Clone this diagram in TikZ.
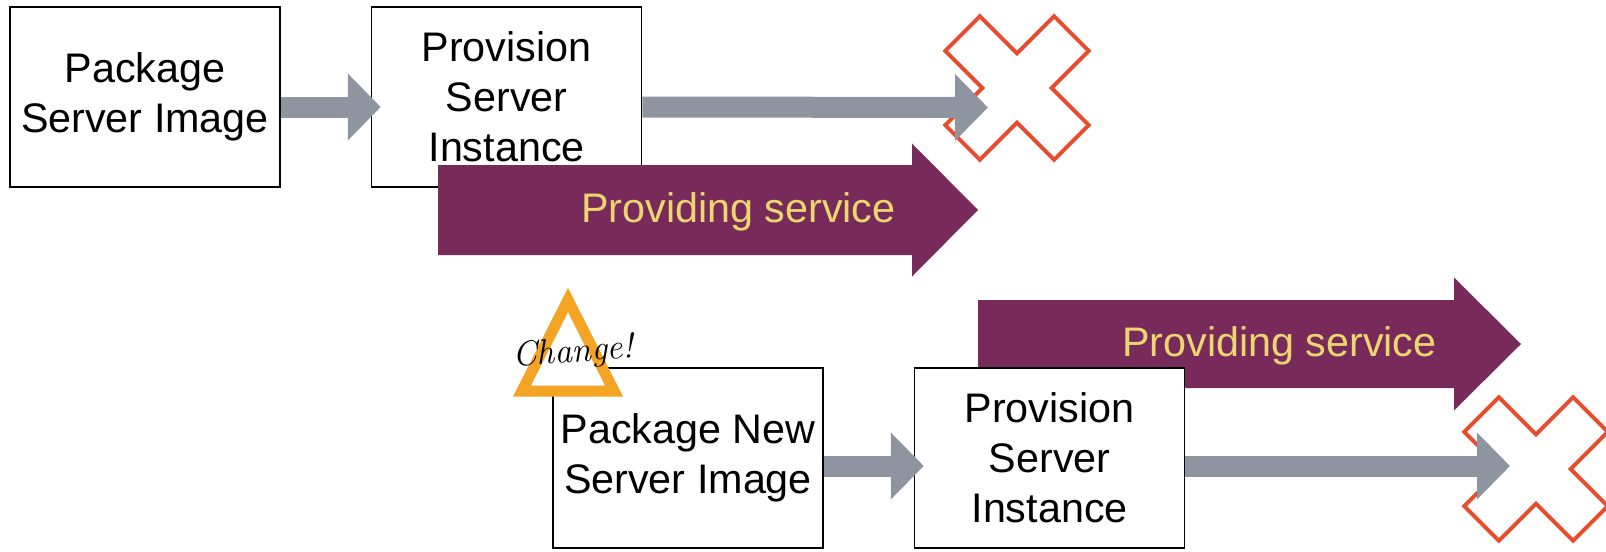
\documentclass[tikz,border=0pt]{standalone}
\usepackage{fontspec}
\setsansfont{Liberation Sans}
\usepackage{xcolor}
\usepackage{tikz}
\usetikzlibrary{arrows.meta,positioning}
\definecolor{slate}{RGB}{142,148,160}
\definecolor{plum}{RGB}{120,42,90}
\definecolor{straw}{RGB}{236,214,112}
\definecolor{alert}{RGB}{232,76,44}
\definecolor{amber}{RGB}{244,164,36}

\begin{document}
\begin{tikzpicture}[
    node distance=1.8cm,
    box/.style={draw=black, fill=white, minimum width=5.4cm, minimum height=3.6cm, align=center,
                inner sep=0pt, font=\sffamily\fontsize{23.5}{28.5}\selectfont, line width=0.9pt},
    flow/.style={-{Triangle[length=0.66cm, width=1.3cm]}, color=slate, line width=0.42cm},
    svc/.style={fill=plum},
    svctext/.style={anchor=east, inner sep=0pt, text=straw, font=\sffamily\fontsize{23.5}{28.5}\selectfont},
    cross/.style={draw=alert, line width=2.2pt, line join=miter},
    warn/.style={draw=amber, fill=white, line width=0.22cm, line join=miter}
]
\useasboundingbox (0,0) rectangle (32.12,-11.02);

\coordinate (x1) at (20.34,-1.76);
\coordinate (x2) at (30.72,-9.38);
\coordinate (stop1) at (19.76,-2.15);
\coordinate (stop2) at (30.20,-9.32);

\draw[cross, shift={(x1)}, rotate=45] (0.49,0.49) -- (1.54,0.49) -- (1.54,-0.49) -- (0.49,-0.49) -- (0.49,-1.54)
    -- (-0.49,-1.54) -- (-0.49,-0.49) -- (-1.54,-0.49) -- (-1.54,0.49) -- (-0.49,0.49) -- (-0.49,1.54) -- (0.49,1.54) -- cycle;
\draw[cross, shift={(x2)}, rotate=45] (0.49,0.49) -- (1.54,0.49) -- (1.54,-0.49) -- (0.49,-0.49) -- (0.49,-1.54)
    -- (-0.49,-1.54) -- (-0.49,-0.49) -- (-1.54,-0.49) -- (-1.54,0.49) -- (-0.49,0.49) -- (-0.49,1.54) -- (0.49,1.54) -- cycle;

\node[box] (pkg) at (2.9,-1.94) {Package\\Server Image};
\node[box, right=of pkg] (prov) {Provision\\Server\\Instance};
\draw[flow] ([yshift=-0.2cm]pkg.east) -- ([xshift=0.2cm, yshift=-0.2cm]prov.west);
\draw[flow] ([yshift=-0.2cm]prov.east) -- (stop1);

\fill[svc] (8.76,-3.3) -- (18.24,-3.3) -- (18.24,-2.87) -- (19.56,-4.2) -- (18.24,-5.53) -- (18.24,-5.1) -- (8.76,-5.1) -- cycle;
\node[svctext] (svc1) at (17.92,-4.24) {Providing service};
\fill[svc] (19.56,-6.0) -- (29.08,-6.0) -- (29.08,-5.55) -- (30.42,-6.88) -- (29.08,-8.21) -- (29.08,-7.76) -- (19.56,-7.76) -- cycle;
\node[svctext] (svc2) at (28.74,-6.92) {Providing service};

\node[box] (pkgnew) at (13.76,-9.16) {Package New\\Server Image};
\node[box, right=of pkgnew] (provnew) {Provision\\Server\\Instance};
\draw[flow] ([yshift=-0.16cm]pkgnew.east) -- ([xshift=0.2cm, yshift=-0.16cm]provnew.west);
\draw[flow] ([yshift=-0.16cm]provnew.east) -- (stop2);

\draw[warn] (11.36,-6.0) -- (12.28,-7.82) -- (10.44,-7.82) -- cycle;
\node[font=\rmfamily\itshape\fontsize{20}{24}\selectfont, rotate=4] (chg) at (11.46,-7.06) {Change!};
\end{tikzpicture}
\end{document}
